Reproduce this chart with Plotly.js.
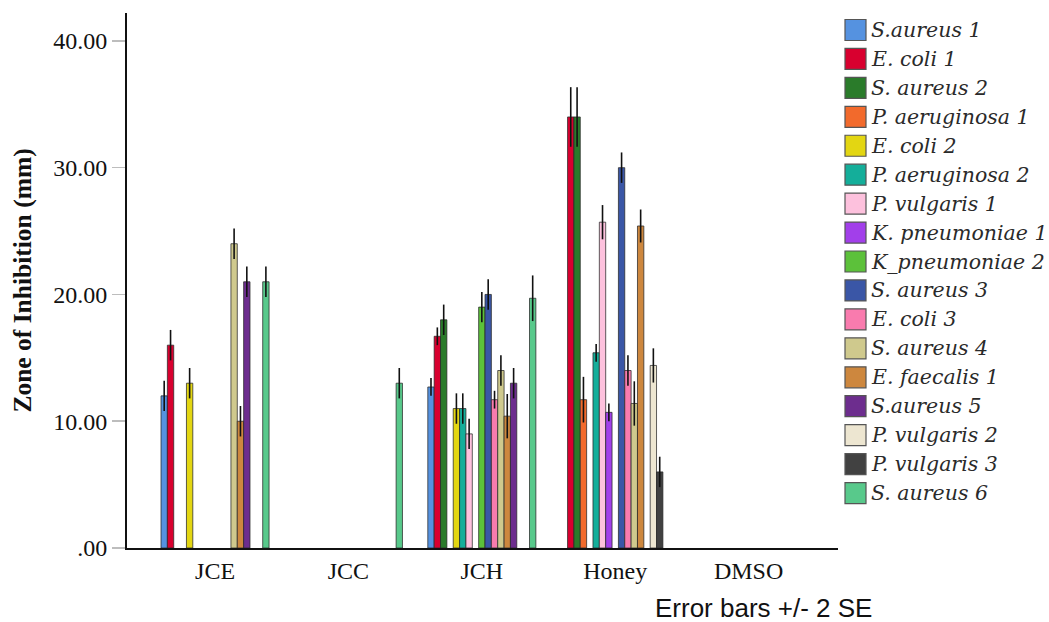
<!DOCTYPE html>
<html>
<head>
<meta charset="utf-8">
<script src="https://cdn.plot.ly/plotly-3.0.1.min.js"></script>
<style>html,body{margin:0;padding:0;background:#fff;}#chart{width:1049px;height:622px;}</style>
</head>
<body>
<div id="chart"></div>
<script>
// Categories on the x axis
var categories = ["JCE", "JCC", "JCH", "Honey", "DMSO"];

// Series names (legend) and colours
var seriesNames = ["S.aureus 1", "E. coli 1", "S. aureus 2", "P. aeruginosa 1", "E. coli 2",
  "P. aeruginosa 2", "P. vulgaris 1", "K. pneumoniae 1", "K_pneumoniae 2", "S. aureus 3",
  "E. coli 3", "S. aureus 4", "E. faecalis 1", "S.aureus 5", "P. vulgaris 2", "P. vulgaris 3", "S. aureus 6"];
var seriesColors = ["#5592E0", "#D8002F", "#2A7B2A", "#F26A2C", "#E3D612",
  "#14AE9A", "#FDC1DD", "#A23FEA", "#5CC13A", "#3A56A6",
  "#F97BAE", "#CFC98D", "#CD873E", "#6D2D8E", "#EDE6D1", "#414141", "#58C98B"];

// Mean zone of inhibition (mm) per series, order: JCE, JCC, JCH, Honey, DMSO
var sAureus1      = [12.0, null, 12.7, null, null];
var eColi1        = [16.0, null, 16.7, 34.0, null];
var sAureus2      = [null, null, 18.0, 34.0, null];
var pAeruginosa1  = [null, null, null, 11.7, null];
var eColi2        = [13.0, null, 11.0, null, null];
var pAeruginosa2  = [null, null, 11.0, 15.4, null];
var pVulgaris1    = [null, null, 9.0, 25.7, null];
var kPneumoniae1  = [null, null, null, 10.7, null];
var kPneumoniae2  = [null, null, 19.0, null, null];
var sAureus3      = [null, null, 20.0, 30.0, null];
var eColi3        = [null, null, 11.7, 14.0, null];
var sAureus4      = [24.0, null, 14.0, 11.4, null];
var eFaecalis1    = [10.0, null, 10.4, 25.4, null];
var sAureus5      = [21.0, null, 13.0, null, null];
var pVulgaris2    = [null, null, null, 14.4, null];
var pVulgaris3    = [null, null, null, 6.0, null];
var sAureus6      = [21.0, 13.0, 19.7, null, null];

// Error bar half-lengths (+/- 2 SE)
var sAureus1Err     = [1.2, null, 0.7, null, null];
var eColi1Err       = [1.2, null, 0.7, 2.35, null];
var sAureus2Err     = [null, null, 1.2, 2.35, null];
var pAeruginosa1Err = [null, null, null, 1.8, null];
var eColi2Err       = [1.2, null, 1.2, null, null];
var pAeruginosa2Err = [null, null, 1.2, 0.7, null];
var pVulgaris1Err   = [null, null, 1.2, 1.35, null];
var kPneumoniae1Err = [null, null, null, 0.7, null];
var kPneumoniae2Err = [null, null, 1.2, null, null];
var sAureus3Err     = [null, null, 1.2, 1.2, null];
var eColi3Err       = [null, null, 0.7, 1.2, null];
var sAureus4Err     = [1.2, null, 1.2, 1.75, null];
var eFaecalis1Err   = [1.2, null, 1.75, 1.3, null];
var sAureus5Err     = [1.2, null, 1.2, null, null];
var pVulgaris2Err   = [null, null, null, 1.35, null];
var pVulgaris3Err   = [null, null, null, 1.2, null];
var sAureus6Err     = [1.2, 1.2, 1.8, null, null];

// y axis ticks
var yTickVals = [0, 10, 20, 30, 40];
var yTickText = [".00", "10.00", "20.00", "30.00", "40.00"];

var seriesValues = [sAureus1, eColi1, sAureus2, pAeruginosa1, eColi2, pAeruginosa2, pVulgaris1,
  kPneumoniae1, kPneumoniae2, sAureus3, eColi3, sAureus4, eFaecalis1, sAureus5, pVulgaris2, pVulgaris3, sAureus6];
var seriesErrors = [sAureus1Err, eColi1Err, sAureus2Err, pAeruginosa1Err, eColi2Err, pAeruginosa2Err, pVulgaris1Err,
  kPneumoniae1Err, kPneumoniae2Err, sAureus3Err, eColi3Err, sAureus4Err, eFaecalis1Err, sAureus5Err, pVulgaris2Err, pVulgaris3Err, sAureus6Err];

var traces = seriesNames.map(function (name, i) {
  return {
    type: "bar",
    name: name,
    x: categories,
    y: seriesValues[i],
    marker: { color: seriesColors[i], line: { color: "rgba(40,40,40,0.75)", width: 1 } },
    error_y: { type: "data", array: seriesErrors[i], visible: true, color: "#111", thickness: 1.6, width: 0 },
    showlegend: false,
    hoverinfo: "skip"
  };
});

// Page geometry (pixels)
var W = 1049, H = 622, mL = 127, mR = 211, mT = 13, mB = 74;
var plotW = W - mL - mR, plotH = H - mT - mB;
function px2x(px) { return (px - mL) / plotW; }
function px2y(py) { return (H - mB - py) / plotH; }

// Manual legend (swatches + italic labels)
var shapes = [], annotations = [];
var legY0 = 30, legStep = 28.94;
seriesNames.forEach(function (name, i) {
  var cy = legY0 + i * legStep;
  shapes.push({
    type: "rect", xref: "paper", yref: "paper",
    x0: px2x(845), x1: px2x(866), y0: px2y(cy + 10.5), y1: px2y(cy - 10.5),
    fillcolor: seriesColors[i], line: { color: "#555", width: 1.2 }
  });
  annotations.push({
    xref: "paper", yref: "paper", x: px2x(869), y: px2y(cy), xanchor: "left", yanchor: "middle",
    text: name, showarrow: false,
    font: { family: "DejaVu Serif", size: 20.5, color: "#2a2a2a", style: "italic" }
  });
});
annotations.push({
  xref: "paper", yref: "paper", x: px2x(763), y: px2y(608), xanchor: "center", yanchor: "middle",
  text: "Error bars +/- 2 SE", showarrow: false,
  font: { family: "Liberation Sans", size: 26, color: "#111" }
});

var layout = {
  width: W, height: H,
  margin: { l: mL, r: mR, t: mT, b: mB, pad: 0 },
  paper_bgcolor: "#fff", plot_bgcolor: "#fff",
  barmode: "group", bargap: 0.19, bargroupgap: 0,
  showlegend: false,
  xaxis: {
    type: "category", range: [-0.66, 4.67],
    showline: true, linecolor: "#111", linewidth: 2,
    showgrid: false, zeroline: false, ticks: "",
    tickfont: { family: "Liberation Serif", size: 24, color: "#111" },
    fixedrange: true
  },
  yaxis: {
    range: [0, 42.2],
    tickvals: yTickVals, ticktext: yTickText,
    showline: true, linecolor: "#111", linewidth: 2,
    showgrid: false, zeroline: false,
    ticks: "outside", ticklen: 13, tickwidth: 1.5, tickcolor: "#bdbdbd",
    tickfont: { family: "Liberation Serif", size: 24, color: "#111" },
    title: { text: "<b>Zone of Inhibition (mm)</b>", font: { family: "Liberation Serif", size: 25.5, color: "#111" }, standoff: 14 },
    fixedrange: true
  },
  shapes: shapes,
  annotations: annotations
};

Plotly.newPlot("chart", traces, layout, { displayModeBar: false, staticPlot: true });
</script>
</body>
</html>
